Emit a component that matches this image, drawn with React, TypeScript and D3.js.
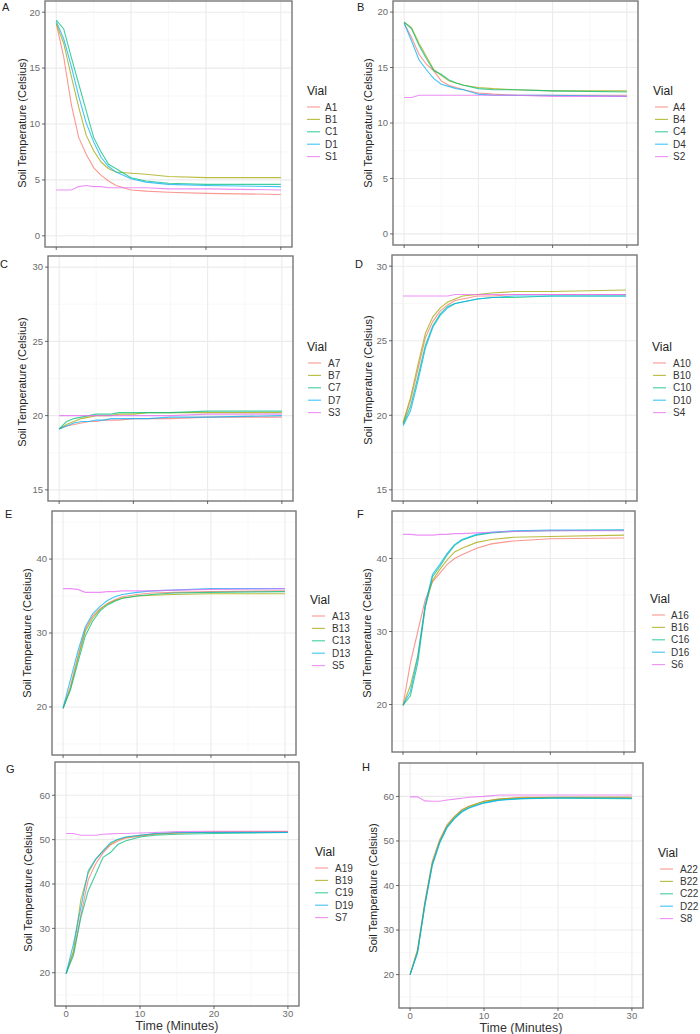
import React from "react";
import * as d3 from "d3";

// minutes at which the loggers were read
const times = [0, 1, 2, 3, 4, 5, 6, 7, 8, 10, 12, 15, 20, 30];
const xTicks = [0, 10, 20, 30];
const xMinor = [5, 15, 25];

const vialColors = ["#F8766D", "#A3A500", "#00BF7D", "#00B0F6", "#E76BF3"];

// Panel A
const vialsA = ["A1", "B1", "C1", "D1", "S1"];
const A1 = [19.0, 16.0, 11.8, 8.8, 7.3, 6.1, 5.4, 4.9, 4.5, 4.1, 4.0, 3.9, 3.8, 3.7];
const B1 = [19.0, 17.2, 14.3, 11.5, 9.0, 7.6, 6.6, 6.0, 5.7, 5.6, 5.5, 5.3, 5.2, 5.2];
const C1 = [19.3, 18.5, 16.0, 13.6, 11.2, 8.8, 7.5, 6.4, 6.0, 5.2, 4.9, 4.7, 4.6, 4.6];
const D1 = [19.2, 17.6, 15.2, 12.5, 10.1, 8.4, 7.0, 6.2, 5.7, 5.1, 4.8, 4.6, 4.5, 4.4];
const S1 = [4.1, 4.1, 4.1, 4.4, 4.5, 4.4, 4.4, 4.3, 4.3, 4.3, 4.3, 4.2, 4.2, 4.1];

// Panel B
const vialsB = ["A4", "B4", "C4", "D4", "S2"];
const A4 = [19.0, 17.7, 16.2, 15.3, 14.7, 13.8, 13.4, 13.2, 13.0, 12.7, 12.6, 12.5, 12.5, 12.5];
const B4 = [19.1, 18.6, 17.2, 16.0, 14.8, 14.3, 13.8, 13.6, 13.4, 13.2, 13.1, 13.0, 12.9, 12.9];
const C4 = [19.1, 18.5, 17.0, 15.8, 14.7, 14.4, 13.9, 13.6, 13.4, 13.1, 13.0, 13.0, 12.9, 12.8];
const D4 = [19.0, 17.4, 15.7, 14.8, 14.0, 13.5, 13.3, 13.1, 13.0, 12.6, 12.5, 12.5, 12.5, 12.4];
const S2 = [12.3, 12.3, 12.5, 12.5, 12.5, 12.5, 12.5, 12.5, 12.5, 12.5, 12.5, 12.5, 12.4, 12.4];

// Panel C
const vialsC = ["A7", "B7", "C7", "D7", "S3"];
const A7 = [19.1, 19.3, 19.4, 19.5, 19.6, 19.6, 19.7, 19.7, 19.7, 19.8, 19.8, 19.8, 19.9, 19.9];
const B7 = [19.1, 19.4, 19.6, 19.8, 19.9, 20.0, 20.0, 20.0, 20.1, 20.1, 20.2, 20.2, 20.2, 20.2];
const C7 = [19.1, 19.6, 19.8, 19.9, 20.0, 20.1, 20.1, 20.1, 20.2, 20.2, 20.2, 20.2, 20.3, 20.3];
const D7 = [19.1, 19.3, 19.5, 19.6, 19.6, 19.7, 19.7, 19.8, 19.8, 19.8, 19.8, 19.9, 19.9, 20.0];
const S3 = [20.0, 20.0, 20.0, 20.0, 20.0, 20.0, 20.0, 20.0, 20.0, 20.0, 20.0, 20.0, 20.1, 20.1];

// Panel D
const vialsD = ["A10", "B10", "C10", "D10", "S4"];
const A10 = [19.5, 21.0, 23.1, 25.2, 26.3, 27.0, 27.4, 27.7, 27.8, 28.0, 28.0, 28.1, 28.1, 28.1];
const B10 = [19.5, 21.2, 23.4, 25.5, 26.6, 27.2, 27.6, 27.8, 28.0, 28.1, 28.2, 28.3, 28.3, 28.4];
const C10 = [19.4, 20.6, 22.6, 24.7, 26.0, 26.8, 27.3, 27.5, 27.6, 27.8, 27.9, 27.9, 28.0, 28.0];
const D10 = [19.3, 20.3, 22.3, 24.5, 25.9, 26.7, 27.2, 27.5, 27.6, 27.8, 27.9, 28.0, 28.0, 28.0];
const S4 = [28.0, 28.0, 28.0, 28.0, 28.0, 28.0, 28.0, 28.1, 28.1, 28.1, 28.1, 28.1, 28.1, 28.1];

// Panel E
const vialsE = ["A13", "B13", "C13", "D13", "S5"];
const A13 = [19.8, 22.8, 26.8, 30.5, 32.3, 33.3, 34.0, 34.5, 34.9, 35.2, 35.4, 35.5, 35.6, 35.7];
const B13 = [19.8, 22.5, 26.5, 30.2, 32.0, 33.2, 33.9, 34.4, 34.7, 35.0, 35.1, 35.2, 35.3, 35.3];
const C13 = [19.8, 22.3, 26.0, 29.6, 31.6, 33.0, 33.8, 34.3, 34.7, 35.0, 35.2, 35.4, 35.5, 35.6];
const D13 = [19.9, 23.7, 27.5, 30.8, 32.6, 33.6, 34.4, 34.9, 35.2, 35.5, 35.7, 35.8, 36.0, 36.0];
const S5 = [36.0, 36.0, 35.9, 35.5, 35.5, 35.5, 35.6, 35.6, 35.7, 35.7, 35.7, 35.8, 35.9, 36.0];

// Panel F
const vialsF = ["A16", "B16", "C16", "D16", "S6"];
const A16 = [19.9, 25.7, 30.0, 34.3, 36.8, 38.0, 39.2, 40.0, 40.5, 41.4, 42.0, 42.4, 42.7, 42.8];
const B16 = [19.9, 22.6, 26.7, 33.4, 37.0, 38.5, 39.8, 40.9, 41.4, 42.2, 42.6, 42.9, 43.0, 43.2];
const C16 = [19.9, 21.2, 25.7, 33.2, 37.5, 38.9, 40.5, 41.8, 42.5, 43.2, 43.5, 43.7, 43.8, 43.9];
const D16 = [19.9, 21.8, 26.5, 33.6, 37.8, 39.2, 40.7, 41.9, 42.6, 43.3, 43.6, 43.8, 43.9, 43.9];
const S6 = [43.3, 43.3, 43.2, 43.2, 43.2, 43.3, 43.3, 43.4, 43.4, 43.5, 43.6, 43.7, 43.8, 43.8];

// Panel G
const vialsG = ["A19", "B19", "C19", "D19", "S7"];
const A19 = [19.8, 24.5, 33.0, 41.0, 44.5, 47.0, 48.8, 49.7, 50.3, 50.8, 51.2, 51.5, 51.7, 51.8];
const B19 = [19.8, 25.0, 36.5, 42.5, 45.5, 47.5, 49.0, 50.0, 50.5, 51.0, 51.3, 51.5, 51.7, 51.8];
const C19 = [19.8, 23.9, 32.5, 38.5, 42.2, 46.0, 47.1, 48.9, 49.7, 50.6, 51.0, 51.2, 51.4, 51.6];
const D19 = [19.8, 26.5, 34.7, 43.0, 45.6, 47.4, 49.3, 50.1, 50.6, 51.0, 51.4, 51.6, 51.6, 51.6];
const S7 = [51.4, 51.4, 51.0, 51.0, 51.0, 51.2, 51.3, 51.4, 51.4, 51.5, 51.6, 51.8, 51.9, 51.9];

// Panel H
const vialsH = ["A22", "B22", "C22", "D22", "S8"];
const A22 = [20.0, 25.6, 36.4, 45.4, 50.3, 53.6, 55.5, 57.0, 57.8, 58.9, 59.4, 59.8, 59.8, 59.8];
const B22 = [20.0, 25.3, 36.0, 45.0, 50.0, 53.4, 55.4, 56.9, 57.8, 58.9, 59.4, 59.7, 59.8, 59.8];
const C22 = [20.0, 25.0, 35.7, 44.7, 49.7, 53.1, 55.1, 56.6, 57.5, 58.6, 59.2, 59.5, 59.6, 59.5];
const D22 = [20.0, 24.8, 35.5, 44.5, 49.5, 53.0, 55.0, 56.5, 57.4, 58.5, 59.1, 59.5, 59.7, 59.6];
const S8 = [59.9, 59.9, 59.0, 58.9, 58.9, 59.2, 59.4, 59.6, 59.8, 60.0, 60.3, 60.3, 60.3, 60.3];

const FONT = "'Liberation Sans', Arial, sans-serif";

// layout of the eight panels (plot box, labels, legend)
const panels = [
  { letter: "A", vials: vialsA, series: [A1, B1, C1, D1, S1], yDomain: [-1, 21], yTicks: [0, 5, 10, 15, 20], yMinor: [2.5, 7.5, 12.5, 17.5],
    box: [45, 292, 1, 247], letterXY: [2, 11], titleXY: [22, 123], legendXY: [307, 91], keyX: 307, textX: 325, xLabels: false },
  { letter: "B", vials: vialsB, series: [A4, B4, C4, D4, S2], yDomain: [-1, 21], yTicks: [0, 5, 10, 15, 20], yMinor: [2.5, 7.5, 12.5, 17.5],
    box: [393, 638, 1, 245], letterXY: [357, 11], titleXY: [368, 123], legendXY: [653, 91], keyX: 655, textX: 673, xLabels: false },
  { letter: "C", vials: vialsC, series: [A7, B7, C7, D7, S3], yDomain: [14.25, 30.75], yTicks: [15, 20, 25, 30], yMinor: [17.5, 22.5, 27.5],
    box: [48, 293, 256, 501], letterXY: [0, 268], titleXY: [22, 382], legendXY: [307, 347], keyX: 308, textX: 328, xLabels: false },
  { letter: "D", vials: vialsD, series: [A10, B10, C10, D10, S4], yDomain: [14.25, 30.75], yTicks: [15, 20, 25, 30], yMinor: [17.5, 22.5, 27.5],
    box: [392, 637, 255, 501], letterXY: [355, 268], titleXY: [368, 380], legendXY: [652, 347], keyX: 653, textX: 673, xLabels: false },
  { letter: "E", vials: vialsE, series: [A13, B13, C13, D13, S5], yDomain: [13.5, 46.5], yTicks: [20, 30, 40], yMinor: [15, 25, 35, 45],
    box: [52, 296, 511, 755], letterXY: [5, 518], titleXY: [27, 633], legendXY: [310, 600], keyX: 312, textX: 332, xLabels: false },
  { letter: "F", vials: vialsF, series: [A16, B16, C16, D16, S6], yDomain: [13.5, 46.5], yTicks: [20, 30, 40], yMinor: [15, 25, 35, 45],
    box: [392, 635, 511, 752], letterXY: [357, 518], titleXY: [367, 633], legendXY: [650, 599], keyX: 652, textX: 671, xLabels: false },
  { letter: "G", vials: vialsG, series: [A19, B19, C19, D19, S7], yDomain: [12.5, 67.5], yTicks: [20, 30, 40, 50, 60], yMinor: [15, 25, 35, 45, 55, 65],
    box: [55, 299, 762, 1006], letterXY: [6, 773], titleXY: [28, 887], legendXY: [315, 852], keyX: 315, textX: 335, xLabels: true },
  { letter: "H", vials: vialsH, series: [A22, B22, C22, D22, S8], yDomain: [12.5, 67.5], yTicks: [20, 30, 40, 50, 60], yMinor: [15, 25, 35, 45, 55, 65],
    box: [399, 643, 763, 1008], letterXY: [362, 771], titleXY: [373, 888], legendXY: [658, 853], keyX: 660, textX: 680, xLabels: true },
];

const Panel = ({ p }) => {
  const [x0, x1, y0, y1] = p.box;
  const x = d3.scaleLinear().domain([-1.5, 31.5]).range([x0, x1]);
  const y = d3.scaleLinear().domain(p.yDomain).range([y1, y0]);
  const line = d3
    .line()
    .x((d, i) => x(times[i]))
    .y((d) => y(d));

  return (
    <g>
      <text x={p.letterXY[0]} y={p.letterXY[1]} fontSize={11} fill="#222" fontFamily={FONT}>
        {p.letter}
      </text>
      <rect x={x0} y={y0} width={x1 - x0} height={y1 - y0} fill="white" />
      {/* grid */}
      {p.yMinor.map((v) => (
        <line key={"ym" + v} x1={x0} x2={x1} y1={y(v)} y2={y(v)} stroke="#F4F4F4" strokeWidth={0.6} />
      ))}
      {xMinor.map((v) => (
        <line key={"xm" + v} y1={y0} y2={y1} x1={x(v)} x2={x(v)} stroke="#F4F4F4" strokeWidth={0.6} />
      ))}
      {p.yTicks.map((v) => (
        <line key={"y" + v} x1={x0} x2={x1} y1={y(v)} y2={y(v)} stroke="#EBEBEB" strokeWidth={1.1} />
      ))}
      {xTicks.map((v) => (
        <line key={"x" + v} y1={y0} y2={y1} x1={x(v)} x2={x(v)} stroke="#EBEBEB" strokeWidth={1.1} />
      ))}
      {/* series */}
      {p.series.map((s, i) => (
        <path key={p.vials[i]} d={line(s)} fill="none" stroke={vialColors[i]} strokeOpacity={0.75} strokeWidth={1.1} />
      ))}
      <rect x={x0} y={y0} width={x1 - x0} height={y1 - y0} fill="none" stroke="#777" strokeWidth={1.4} />
      {/* axes */}
      {p.yTicks.map((v) => (
        <g key={"yt" + v}>
          <line x1={x0 - 3} x2={x0} y1={y(v)} y2={y(v)} stroke="#444" strokeWidth={0.8} />
          <text x={x0 - 5} y={y(v)} dy="0.35em" textAnchor="end" fontSize={9.5} fill="#6b6b6b" fontFamily={FONT}>
            {v}
          </text>
        </g>
      ))}
      {xTicks.map((v) => (
        <g key={"xt" + v}>
          <line x1={x(v)} x2={x(v)} y1={y1} y2={y1 + 3} stroke="#444" strokeWidth={0.8} />
          {p.xLabels && (
            <text x={x(v)} y={y1 + 8} dy="0.35em" textAnchor="middle" fontSize={9.5} fill="#6b6b6b" fontFamily={FONT}>
              {v}
            </text>
          )}
        </g>
      ))}
      {p.xLabels && (
        <text x={(x0 + x1) / 2} y={y1 + 20} dy="0.35em" textAnchor="middle" fontSize={12.5} fill="#333" fontFamily={FONT}>
          Time (Minutes)
        </text>
      )}
      <text
        transform={`translate(${p.titleXY[0]},${p.titleXY[1]}) rotate(-90)`}
        dy="0.35em"
        textAnchor="middle"
        fontSize={11}
        fill="#222"
        fontFamily={FONT}
      >
        Soil Temperature (Celsius)
      </text>
      {/* legend */}
      <text x={p.legendXY[0]} y={p.legendXY[1]} dy="0.35em" fontSize={12} fill="#222" fontFamily={FONT}>
        Vial
      </text>
      {p.vials.map((v, i) => {
        const ly = p.legendXY[1] + 16 + i * 12.4;
        return (
          <g key={"lg" + v}>
            <line x1={p.keyX} x2={p.keyX + 13} y1={ly} y2={ly} stroke={vialColors[i]} strokeOpacity={0.75} strokeWidth={1.1} />
            <text x={p.textX} y={ly} dy="0.35em" fontSize={10} fill="#333" fontFamily={FONT}>
              {v}
            </text>
          </g>
        );
      })}
    </g>
  );
};

const App = () => {
  return (
    <svg
      width={700}
      height={1034}
      viewBox="0 0 700 1034"
      style={{ position: "absolute", left: 0, top: 0, background: "white" }}
    >
      <rect width={700} height={1034} fill="white" />
      {panels.map((p) => (
        <Panel key={p.letter} p={p} />
      ))}
    </svg>
  );
};

export default App;
